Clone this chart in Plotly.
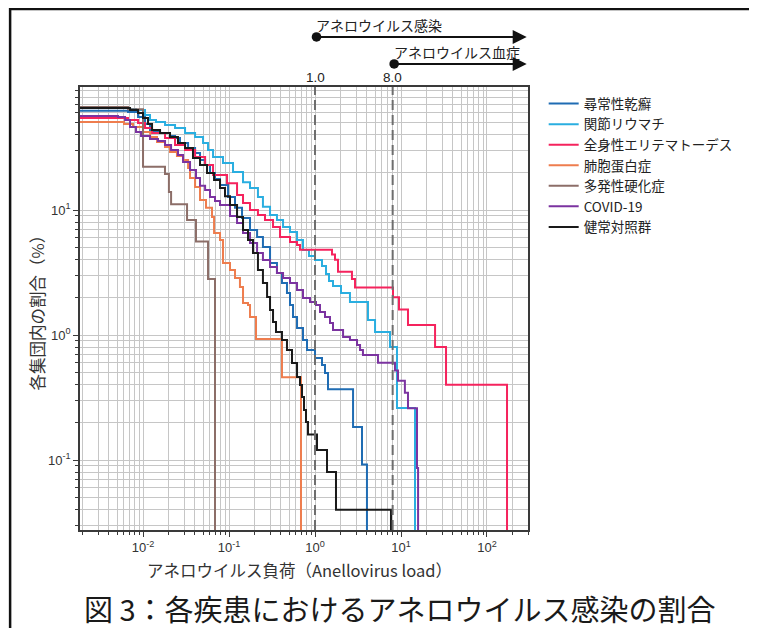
import math
import plotly.graph_objects as go

# Values below the plotted range are used as the "start" (left of axis) and "zero" (bottom) of each step curve
START_X = 0.001
ZERO_Y = 0.001

# 尋常性乾癬
psoriasis_x = [START_X, 0.00669, 0.00875, 0.01055, 0.01206, 0.01577, 0.0206, 0.02357, 0.0269, 0.0334, 0.0403, 0.046,
               0.0527, 0.0601, 0.0687, 0.0786, 0.0974, 0.1174, 0.1417, 0.1755, 0.212, 0.248, 0.300, 0.361, 0.413, 0.472,
               0.512, 0.555, 0.618, 0.725, 0.807, 1.0, 1.206, 1.307, 1.416, 2.77, 3.52, 4.02]
psoriasis_y = [62.1, 60.8, 55.5, 48.8, 42.9, 41.3, 39.1, 37.7, 34.4, 31.3, 28.6, 25.1, 22.9, 19.8, 17.7, 15.85, 12.7,
               10.4, 8.63, 6.92, 6.08, 5.06, 3.77, 3.13, 2.61, 2.17, 1.74, 1.39, 1.14, 0.912, 0.759, 0.655, 0.575, 0.497,
               0.368, 0.184, 0.092, ZERO_Y]

# 関節リウマチ
ra_x = [START_X, 0.00669, 0.00829, 0.01055, 0.01206, 0.01416, 0.01803, 0.02357, 0.0308, 0.0403, 0.0499, 0.0570, 0.0652,
        0.0851, 0.1113, 0.1455, 0.1755, 0.217, 0.248, 0.300, 0.361, 0.425, 0.512, 0.618, 0.725, 0.851, 1.0, 1.206,
        1.343, 1.455, 1.619, 2.006, 2.55, 4.13, 4.99, 7.45, 8.98, 14.55]
ra_y = [66.7, 64.3, 63.1, 57.5, 52.5, 50.6, 47.9, 45.3, 41.3, 38.4, 34.4, 30.2, 26.5, 23.8, 20.1, 16.7, 15.0, 12.7,
        10.6, 9.12, 8.32, 7.31, 6.67, 5.75, 4.79, 4.29, 3.98, 3.56, 3.08, 2.70, 2.47, 2.17, 1.84, 1.318, 1.057, 0.802,
        0.261, ZERO_Y]

# 全身性エリテマトーデス
sle_x = [START_X, 0.00669, 0.00875, 0.01055, 0.01273, 0.01803, 0.02357, 0.0308, 0.0403, 0.0527, 0.0652, 0.0948, 0.1240,
         0.1455, 0.1755, 0.217, 0.262, 0.325, 0.392, 0.512, 0.618, 0.669, 1.577, 1.708, 1.851, 2.69, 2.92, 8.07, 9.48,
         12.06, 24.9, 33.4, 171]
sle_y = [54.4, 52.5, 49.7, 45.3, 41.3, 37.7, 33.1, 30.2, 26.5, 22.9, 19.05, 16.4, 13.2, 11.4, 10.0, 9.12, 8.32, 7.31,
         6.08, 5.55, 5.25, 4.8, 4.4, 4.0, 3.2, 2.8, 2.4, 2.0, 1.6, 1.2, 0.8, 0.4, ZERO_Y]

# 肺胞蛋白症
pap_x = [START_X, 0.00601, 0.00765, 0.0100, 0.0121, 0.01455, 0.0180, 0.0206, 0.0248, 0.0292, 0.0334, 0.0352, 0.0403,
         0.046, 0.054, 0.0634, 0.067, 0.0786, 0.0851, 0.1027, 0.1174, 0.134, 0.1455, 0.1663, 0.1755, 0.206, 0.413, 0.687]
pap_y = [50.6, 48.8, 46.1, 42.1, 38.4, 35.0, 31.9, 29.1, 27.0, 25.1, 21.7, 18.0, 15.3, 12.0, 10.4, 8.79, 6.55, 5.75,
         3.77, 3.31, 2.86, 2.42, 1.80, 1.74, 1.39, 0.93, 0.46, ZERO_Y]

# 多発性硬化症
ms_x = [START_X, 0.0067, 0.0100, 0.0180, 0.0200, 0.0212, 0.0325, 0.0413, 0.0570, 0.0687]
ms_y = [66.7, 63.9, 22.2, 19.4, 13.9, 11.1, 8.3, 5.6, 2.8, ZERO_Y]

# COVID-19
covid_x = [START_X, 0.00512, 0.00618, 0.00706, 0.00829, 0.00948, 0.01206, 0.01494, 0.01803, 0.0212, 0.0255, 0.0292,
           0.0352, 0.0413, 0.046, 0.0527, 0.0601, 0.0687, 0.0786, 0.1027, 0.1240, 0.1455, 0.1755, 0.212, 0.248, 0.300,
           0.361, 0.425, 0.512, 0.618, 0.725, 0.875, 1.027, 1.143, 1.307, 1.494, 1.619, 2.12, 2.55, 3.08, 3.34, 3.61,
           5.40, 8.51, 9.23, 11.1, 12.06, 15.35, 15.8]
covid_y = [56.5, 55.5, 52.5, 46.1, 42.1, 39.1, 37.0, 35.6, 33.1, 30.2, 27.5, 24.2, 20.9, 18.0, 15.6, 14.45, 12.7, 11.8,
           10.96, 8.95, 7.87, 6.55, 5.45, 4.53, 3.98, 3.50, 3.13, 2.86, 2.61, 2.29, 1.98, 1.84, 1.74, 1.53, 1.39, 1.25,
           1.096, 0.964, 0.912, 0.832, 0.759, 0.692, 0.60, 0.52, 0.43, 0.345, 0.26, 0.0863, ZERO_Y]

# 健常対照群
healthy_x = [START_X, 0.00706, 0.00875, 0.0100, 0.01143, 0.01273, 0.01577, 0.0206, 0.0255, 0.0308, 0.0381, 0.046,
             0.0555, 0.0670, 0.0786, 0.0898, 0.1027, 0.1240, 0.1455, 0.1663, 0.190, 0.217, 0.248, 0.277, 0.300, 0.325,
             0.352, 0.413, 0.472, 0.540, 0.618, 0.669, 0.706, 0.745, 0.786, 0.829, 1.055, 1.379, 1.754, 7.65]
healthy_y = [65.5, 63.1, 59.7, 54.4, 48.8, 43.7, 41.3, 38.4, 34.4, 31.3, 26.1, 22.9, 19.8, 17.4, 15.0, 12.9, 10.96,
             8.79, 6.92, 5.75, 4.53, 3.31, 2.61, 2.01, 1.585, 1.27, 1.057, 0.912, 0.759, 0.597, 0.461, 0.398, 0.319,
             0.251, 0.201, 0.16, 0.12, 0.08, 0.04, ZERO_Y]

series_names = ["尋常性乾癬", "関節リウマチ", "全身性エリテマトーデス", "肺胞蛋白症", "多発性硬化症", "COVID-19", "健常対照群"]
series_x = [psoriasis_x, ra_x, sle_x, pap_x, ms_x, covid_x, healthy_x]
series_y = [psoriasis_y, ra_y, sle_y, pap_y, ms_y, covid_y, healthy_y]
series_colors = ["#1f6cb3", "#2aaee0", "#f5235d", "#ee7d4e", "#8c6e68", "#7b33a0", "#1a1a1a"]

x_tick_vals = [0.01, 0.1, 1, 10, 100]
x_tick_text = ["10<sup>-2</sup>", "10<sup>-1</sup>", "10<sup>0</sup>", "10<sup>1</sup>", "10<sup>2</sup>"]
y_tick_vals = [0.1, 1, 10]
y_tick_text = ["10<sup>-1</sup>", "10<sup>0</sup>", "10<sup>1</sup>"]
thresholds = [1.0, 8.0]
threshold_labels = ["1.0", "8.0"]
arrow_labels = ["アネロウイルス感染", "アネロウイルス血症"]

x_minor = [k * 10 ** e for e in range(-3, 3) for k in range(2, 10)]
y_minor = [k * 10 ** e for e in range(-2, 2) for k in range(2, 10)]

JP = "Noto Sans CJK JP"
LAT = "Liberation Sans, Arial"

fig = go.Figure()
for name, xs, ys, col in zip(series_names, series_x, series_y, series_colors):
    fig.add_trace(go.Scatter(x=xs, y=ys, mode="lines", name=name, line=dict(color=col, width=2, shape="hv")))

grid_col = "#c6c6c6"
axis_common = dict(type="log", showline=True, linecolor="#3a3a3a", linewidth=1.5, mirror=True,
                   ticks="outside", ticklen=5, tickwidth=1, tickcolor="#3a3a3a",
                   showgrid=True, gridcolor=grid_col, gridwidth=1, zeroline=False,
                   tickfont=dict(family=LAT, size=13, color="#333333"))

fig.update_xaxes(range=[-2.733, 2.477], tickmode="array", tickvals=x_tick_vals, ticktext=x_tick_text,
                 minor=dict(tickvals=x_minor, ticks="outside", ticklen=3, tickcolor="#3a3a3a",
                            showgrid=True, gridcolor=grid_col, gridwidth=1),
                 **axis_common)
fig.update_yaxes(range=[-1.56, 1.984], tickmode="array", tickvals=y_tick_vals, ticktext=y_tick_text,
                 minor=dict(tickvals=y_minor, ticks="outside", ticklen=3, tickcolor="#3a3a3a",
                            showgrid=True, gridcolor=grid_col, gridwidth=1),
                 **axis_common)

shapes = []
for t in thresholds:
    shapes.append(dict(type="line", xref="x", yref="paper", x0=t, x1=t, y0=0, y1=1,
                       line=dict(color="#6e6e6e", width=2, dash="10px,5px")))
# outer frame
shapes.append(dict(type="rect", xref="paper", yref="paper", x0=-0.156, x1=1.498, y0=-0.3, y1=1.176,
                   line=dict(color="#111111", width=2.5), fillcolor="rgba(0,0,0,0)", layer="below"))

annotations = []
for t, lab in zip(thresholds, threshold_labels):
    annotations.append(dict(xref="x", yref="paper", x=math.log10(t), y=1.021, text=lab, showarrow=False,
                            xanchor="center", yanchor="middle", font=dict(family=LAT, size=13.5, color="#222222")))
arrow_y = [1.113, 1.052]
label_y = [1.140, 1.080]
for t, lab, ay_, ly in zip(thresholds, arrow_labels, arrow_y, label_y):
    annotations.append(dict(xref="x", yref="paper", x=math.log10(t) - 0.01, y=ly, text=lab, showarrow=False,
                            xanchor="left", yanchor="middle", font=dict(family=JP, size=14, color="#222222")))
    annotations.append(dict(xref="x", yref="paper", x=2.462, y=ay_, axref="x", ayref="pixel",
                            ax=math.log10(t), ay=0, text="", showarrow=True, arrowhead=2, arrowsize=1.4,
                            arrowwidth=2, arrowcolor="#111111", arrowside="end+start", startarrowhead=6,
                            startarrowsize=1.2))
annotations.append(dict(xref="paper", yref="paper", x=0.489, y=-0.0903, text="アネロウイルス負荷（Anellovirus load）",
                        showarrow=False, xanchor="center", yanchor="middle", font=dict(family=JP, size=16.5, color="#333333")))
annotations.append(dict(xref="paper", yref="paper", x=-0.096, y=0.5, text="各集団内の割合（%）", textangle=-90,
                        showarrow=False, xanchor="center", yanchor="middle", font=dict(family=JP, size=16.5, color="#333333")))
annotations.append(dict(xref="paper", yref="paper", x=0.714, y=-0.175, text="図 3：各疾患におけるアネロウイルス感染の割合",
                        showarrow=False, xanchor="center", yanchor="middle", font=dict(family=JP, size=29, color="#1a1a1a")))

# the page body adds an 8px offset, so the figure is 8px smaller than the window
fig.update_layout(
    width=749, height=620, autosize=False,
    margin=dict(l=72, r=229, t=79, b=98),
    paper_bgcolor="white", plot_bgcolor="white",
    shapes=shapes, annotations=annotations,
    legend=dict(x=1.035, y=0.997, xanchor="left", yanchor="top", bgcolor="rgba(0,0,0,0)",
                font=dict(family=JP, size=13.5, color="#222222"), tracegroupgap=0, itemwidth=30),
    showlegend=True,
)

fig.write_html("out.html")
